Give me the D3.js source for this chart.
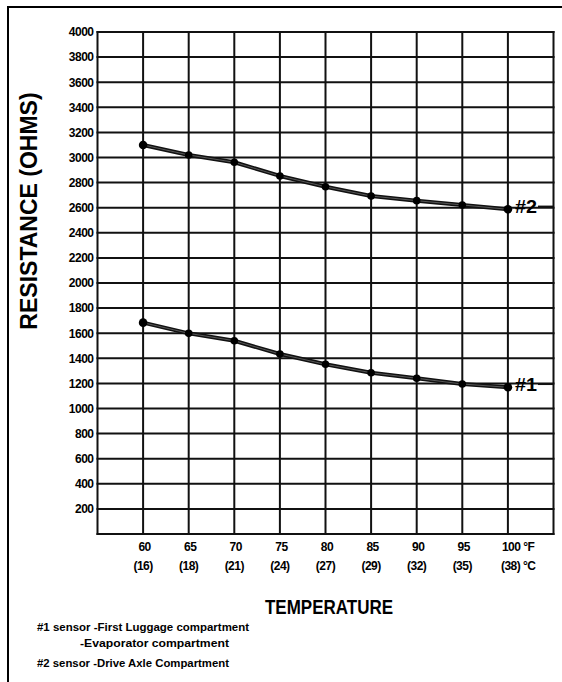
<!DOCTYPE html>
<html>
<head>
<meta charset="utf-8">
<script src="https://cdn.jsdelivr.net/npm/d3@7"></script>
<style>
  body { margin: 0; background: #fff; }
  svg { display: block; font-family: "Liberation Sans", Arial, sans-serif; font-weight: bold; }
</style>
</head>
<body>
<div id="chart"></div>
<script>
// values
const tempF = [60, 65, 70, 75, 80, 85, 90, 95, 100];
const tempC = [16, 18, 21, 24, 27, 29, 32, 35, 38];
const sensor1 = [1684, 1599, 1540, 1434, 1352, 1285, 1241, 1195, 1169];
const sensor2 = [3100, 3020, 2962, 2853, 2767, 2693, 2656, 2622, 2587];
const yTicks = [200, 400, 600, 800, 1000, 1200, 1400, 1600, 1800, 2000,
                2200, 2400, 2600, 2800, 3000, 3200, 3400, 3600, 3800, 4000];
const seriesNames = ['#1', '#2'];
const legendLines = [
  '#1 sensor -First Luggage compartment',
  '-Evaporator compartment',
  '#2 sensor -Drive Axle Compartment'
];

const width = 562, height = 682;
const svg = d3.select('#chart').append('svg')
  .attr('width', width).attr('height', height);

// page frame (top + left only)
svg.append('path')
  .attr('d', `M8,${height} L8,7 L${width},7`)
  .attr('fill', 'none').attr('stroke', '#000').attr('stroke-width', 2);

const x = d3.scaleLinear().domain([55, 105]).range([97.5, 553.5]);
const y = d3.scaleLinear().domain([0, 4000]).range([534, 32]);

const grid = svg.append('g').attr('stroke', '#111').attr('stroke-width', 2);

// horizontal grid
grid.selectAll('line.h')
  .data([0, ...yTicks])
  .join('line')
  .attr('class', 'h')
  .attr('x1', x(55) - 1).attr('x2', x(105) + 1)
  .attr('y1', d => y(d)).attr('y2', d => y(d));

// vertical grid
grid.selectAll('line.v')
  .data([55, ...tempF, 105])
  .join('line')
  .attr('class', 'v')
  .attr('x1', d => x(d)).attr('x2', d => x(d))
  .attr('y1', y(4000) - 1).attr('y2', y(0) + 1);

// y tick labels
svg.append('g')
  .selectAll('text')
  .data(yTicks)
  .join('text')
  .attr('x', x(55) - 4)
  .attr('y', d => y(d))
  .attr('dy', '0.36em')
  .attr('text-anchor', 'end')
  .attr('font-size', 12)
  .attr('letter-spacing', -0.5)
  .text(d => d);

// x tick labels, two rows
const xl = svg.append('g').attr('font-size', 12).attr('letter-spacing', -0.5);
xl.selectAll('text.f')
  .data(tempF)
  .join('text')
  .attr('class', 'f')
  .attr('x', (d, i) => i === tempF.length - 1 ? x(d) - 6 : x(d) + 1.5)
  .attr('y', 551)
  .attr('text-anchor', (d, i) => i === tempF.length - 1 ? 'start' : 'middle')
  .text((d, i) => i === tempF.length - 1 ? `${d} °F` : d);

xl.selectAll('text.c')
  .data(tempC)
  .join('text')
  .attr('class', 'c')
  .attr('x', (d, i) => i === tempC.length - 1 ? x(tempF[i]) - 7 : x(tempF[i]))
  .attr('y', 570)
  .attr('text-anchor', (d, i) => i === tempC.length - 1 ? 'start' : 'middle')
  .text((d, i) => i === tempC.length - 1 ? `(${d}) °C` : `(${d})`);

// axis titles
svg.append('text')
  .attr('transform', 'translate(37,211) rotate(-90)')
  .attr('text-anchor', 'middle')
  .attr('font-size', 23)
  .text('RESISTANCE (OHMS)');

svg.append('text')
  .attr('x', 265).attr('y', 614)
  .attr('font-size', 21)
  .attr('textLength', 128)
  .attr('lengthAdjust', 'spacingAndGlyphs')
  .text('TEMPERATURE');

// series
const line = d3.line().x(d => x(d.t)).y(d => y(d.v));
const series = [sensor1, sensor2].map((vals, k) => ({
  name: seriesNames[k],
  pts: vals.map((v, i) => ({ t: tempF[i], v }))
}));

const sg = svg.append('g');
series.forEach(s => {
  sg.append('path').datum(s.pts)
    .attr('d', line).attr('fill', 'none')
    .attr('stroke', '#111').attr('stroke-width', 4).attr('stroke-linejoin', 'round');
  sg.append('path').datum(s.pts)
    .attr('d', line).attr('fill', 'none')
    .attr('stroke', '#777').attr('stroke-width', 0.7);
  sg.selectAll(null).data(s.pts)
    .join('circle')
    .attr('cx', d => x(d.t)).attr('cy', d => y(d.v))
    .attr('r', (d, i) => i === 0 || i === s.pts.length - 1 ? 4.3 : 3.8)
    .attr('fill', '#000');

  const last = s.pts[s.pts.length - 1];
  const ly = y(last.v) - 3;
  sg.append('line')
    .attr('x1', 538).attr('x2', x(105))
    .attr('y1', ly).attr('y2', ly)
    .attr('stroke', '#111').attr('stroke-width', 1.5);
  sg.append('text')
    .attr('x', 515).attr('y', ly + 7)
    .attr('font-size', 18)
    .attr('font-weight', 'bold')
    .attr('textLength', 22)
    .attr('lengthAdjust', 'spacingAndGlyphs')
    .text(s.name);
});

// legend notes
const legX = [37, 80, 37], legY = [631, 647, 667], legW = [212, 149, 192];
svg.append('g')
  .selectAll('text')
  .data(legendLines)
  .join('text')
  .attr('x', (d, i) => legX[i])
  .attr('y', (d, i) => legY[i])
  .attr('font-size', 11.5)
  .attr('textLength', (d, i) => legW[i])
  .attr('lengthAdjust', 'spacingAndGlyphs')
  .text(d => d);
</script>
</body>
</html>
